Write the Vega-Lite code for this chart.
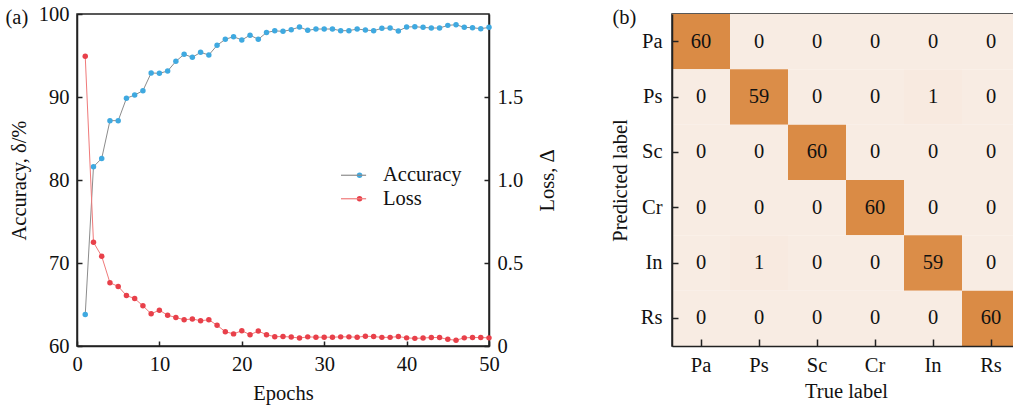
{
  "$schema": "https://vega.github.io/schema/vega-lite/v6.json",
  "padding": {"left": 4, "top": 3, "right": 0, "bottom": 0},
  "background": "white",
  "config": {
    "font": "Liberation Serif",
    "view": {"stroke": "#222", "strokeWidth": 1.5},
    "axis": {"grid": false, "domainColor": "#222", "tickColor": "#222", "labelColor": "#111", "titleColor": "#111", "labelFont": "Liberation Serif", "titleFont": "Liberation Serif", "labelFontSize": 20.5, "titleFontSize": 20.5, "titleFontWeight": "normal", "tickSize": -5, "labelPadding": 13, "labelFlush": false, "domainWidth": 1.5, "tickWidth": 1.5}
  },
  "datasets": {
    "train": [
      {"epoch": 1, "acc": 63.8, "loss": 1.745},
      {"epoch": 2, "acc": 81.6, "loss": 0.625},
      {"epoch": 3, "acc": 82.6, "loss": 0.540},
      {"epoch": 4, "acc": 87.15, "loss": 0.381},
      {"epoch": 5, "acc": 87.15, "loss": 0.359},
      {"epoch": 6, "acc": 89.84, "loss": 0.304},
      {"epoch": 7, "acc": 90.24, "loss": 0.286},
      {"epoch": 8, "acc": 90.76, "loss": 0.242},
      {"epoch": 9, "acc": 92.9, "loss": 0.194},
      {"epoch": 10, "acc": 92.85, "loss": 0.216},
      {"epoch": 11, "acc": 93.13, "loss": 0.185},
      {"epoch": 12, "acc": 94.3, "loss": 0.172},
      {"epoch": 13, "acc": 95.14, "loss": 0.158},
      {"epoch": 14, "acc": 94.78, "loss": 0.163},
      {"epoch": 15, "acc": 95.38, "loss": 0.152},
      {"epoch": 16, "acc": 95.06, "loss": 0.158},
      {"epoch": 17, "acc": 96.23, "loss": 0.125},
      {"epoch": 18, "acc": 96.95, "loss": 0.086},
      {"epoch": 19, "acc": 97.27, "loss": 0.073},
      {"epoch": 20, "acc": 96.87, "loss": 0.092},
      {"epoch": 21, "acc": 97.45, "loss": 0.068},
      {"epoch": 22, "acc": 96.95, "loss": 0.090},
      {"epoch": 23, "acc": 97.77, "loss": 0.068},
      {"epoch": 24, "acc": 97.97, "loss": 0.056},
      {"epoch": 25, "acc": 97.91, "loss": 0.057},
      {"epoch": 26, "acc": 98.11, "loss": 0.054},
      {"epoch": 27, "acc": 98.43, "loss": 0.048},
      {"epoch": 28, "acc": 98.03, "loss": 0.055},
      {"epoch": 29, "acc": 98.19, "loss": 0.053},
      {"epoch": 30, "acc": 98.19, "loss": 0.053},
      {"epoch": 31, "acc": 98.19, "loss": 0.053},
      {"epoch": 32, "acc": 97.99, "loss": 0.055},
      {"epoch": 33, "acc": 97.99, "loss": 0.055},
      {"epoch": 34, "acc": 98.19, "loss": 0.053},
      {"epoch": 35, "acc": 98.07, "loss": 0.059},
      {"epoch": 36, "acc": 97.99, "loss": 0.057},
      {"epoch": 37, "acc": 98.27, "loss": 0.052},
      {"epoch": 38, "acc": 98.31, "loss": 0.052},
      {"epoch": 39, "acc": 97.95, "loss": 0.057},
      {"epoch": 40, "acc": 98.43, "loss": 0.049},
      {"epoch": 41, "acc": 98.47, "loss": 0.046},
      {"epoch": 42, "acc": 98.39, "loss": 0.048},
      {"epoch": 43, "acc": 98.31, "loss": 0.051},
      {"epoch": 44, "acc": 98.31, "loss": 0.051},
      {"epoch": 45, "acc": 98.63, "loss": 0.040},
      {"epoch": 46, "acc": 98.71, "loss": 0.035},
      {"epoch": 47, "acc": 98.39, "loss": 0.049},
      {"epoch": 48, "acc": 98.35, "loss": 0.051},
      {"epoch": 49, "acc": 98.23, "loss": 0.051},
      {"epoch": 50, "acc": 98.39, "loss": 0.049}
    ],
    "cm": [
      {"pred": "Pa", "true": "Pa", "n": 60}, {"pred": "Pa", "true": "Ps", "n": 0}, {"pred": "Pa", "true": "Sc", "n": 0}, {"pred": "Pa", "true": "Cr", "n": 0}, {"pred": "Pa", "true": "In", "n": 0}, {"pred": "Pa", "true": "Rs", "n": 0},
      {"pred": "Ps", "true": "Pa", "n": 0}, {"pred": "Ps", "true": "Ps", "n": 59}, {"pred": "Ps", "true": "Sc", "n": 0}, {"pred": "Ps", "true": "Cr", "n": 0}, {"pred": "Ps", "true": "In", "n": 1}, {"pred": "Ps", "true": "Rs", "n": 0},
      {"pred": "Sc", "true": "Pa", "n": 0}, {"pred": "Sc", "true": "Ps", "n": 0}, {"pred": "Sc", "true": "Sc", "n": 60}, {"pred": "Sc", "true": "Cr", "n": 0}, {"pred": "Sc", "true": "In", "n": 0}, {"pred": "Sc", "true": "Rs", "n": 0},
      {"pred": "Cr", "true": "Pa", "n": 0}, {"pred": "Cr", "true": "Ps", "n": 0}, {"pred": "Cr", "true": "Sc", "n": 0}, {"pred": "Cr", "true": "Cr", "n": 60}, {"pred": "Cr", "true": "In", "n": 0}, {"pred": "Cr", "true": "Rs", "n": 0},
      {"pred": "In", "true": "Pa", "n": 0}, {"pred": "In", "true": "Ps", "n": 1}, {"pred": "In", "true": "Sc", "n": 0}, {"pred": "In", "true": "Cr", "n": 0}, {"pred": "In", "true": "In", "n": 59}, {"pred": "In", "true": "Rs", "n": 0},
      {"pred": "Rs", "true": "Pa", "n": 0}, {"pred": "Rs", "true": "Ps", "n": 0}, {"pred": "Rs", "true": "Sc", "n": 0}, {"pred": "Rs", "true": "Cr", "n": 0}, {"pred": "Rs", "true": "In", "n": 0}, {"pred": "Rs", "true": "Rs", "n": 60}
    ]
  },
  "spacing": 50,
  "resolve": {"scale": {"color": "independent"}, "legend": {"color": "independent"}},
  "hconcat": [
    {
      "width": 412,
      "height": 332,
      "data": {"name": "train"},
      "layer": [
        {
          "layer": [
            {"mark": {"type": "line", "strokeWidth": 1},
             "encoding": {
               "x": {"field": "epoch", "type": "quantitative", "scale": {"domain": [0, 50]}, "axis": {"values": [0, 10, 20, 30, 40, 50], "title": "Epochs", "titlePadding": 9}},
               "y": {"field": "acc", "type": "quantitative", "scale": {"domain": [60, 100]}, "axis": {"values": [60, 70, 80, 90, 100], "title": "Accuracy, δ/%", "titlePadding": 9}},
               "stroke": {"datum": "A", "type": "nominal",
                 "scale": {"domain": ["A", "L"], "range": ["#8c8c8c", "#f07a7a"]},
                 "legend": {"title": null, "orient": "none", "legendX": 266.3, "legendY": 151, "padding": 0, "symbolOffset": 0,
                   "symbolType": "M-1.45,0H1.45", "symbolSize": 300, "symbolStrokeWidth": 1.2,
                   "labelFontSize": 20.5, "labelFont": "Liberation Serif", "labelExpr": "''", "labelOffset": 0, "rowPadding": 2.5}}
             }},
            {"mark": {"type": "point", "filled": true, "size": 30, "opacity": 1},
             "encoding": {
               "x": {"field": "epoch", "type": "quantitative"},
               "y": {"field": "acc", "type": "quantitative"},
               "color": {"datum": "Accuracy", "type": "nominal",
                 "scale": {"domain": ["Accuracy", "Loss"], "range": ["#3fa9e0", "#e8404a"]},
                 "legend": {"title": null, "orient": "none", "legendX": 272.3, "legendY": 151, "padding": 0, "symbolOffset": 0,
                   "symbolType": "circle", "symbolSize": 30, "symbolStrokeWidth": 0,
                   "labelFontSize": 20.5, "labelFont": "Liberation Serif", "labelColor": "#111", "labelOffset": 13.2, "rowPadding": 2.5}}
             }}
          ]
        },
        {
          "layer": [
            {"mark": {"type": "line", "strokeWidth": 1},
             "encoding": {
               "x": {"field": "epoch", "type": "quantitative", "axis": {"orient": "top", "title": "(a)", "domain": false, "ticks": false, "labels": false, "titleX": -72, "titleY": 3, "titleAlign": "left", "titleBaseline": "middle", "titleAngle": 0}},
               "y": {"field": "loss", "type": "quantitative", "scale": {"domain": [0, 1.815]}, "axis": {"orient": "right", "values": [0, 0.5, 1, 1.5], "labelExpr": "datum.value == 0 ? '0' : format(datum.value, '.1f')", "title": "Loss, Δ", "titleAngle": 270, "titlePadding": 35}},
               "stroke": {"datum": "L", "type": "nominal"}
             }},
            {"mark": {"type": "point", "filled": true, "size": 30, "opacity": 1},
             "encoding": {
               "x": {"field": "epoch", "type": "quantitative"},
               "y": {"field": "loss", "type": "quantitative"},
               "color": {"datum": "Loss", "type": "nominal"}
             }}
          ]
        }
      ],
      "resolve": {"scale": {"y": "independent"}, "axis": {"x": "independent"}}
    },
    {
      "width": 348,
      "height": 332,
      "data": {"name": "cm"},
      "layer": [
        {"mark": {"type": "rect"},
         "encoding": {
           "x": {"field": "true", "type": "nominal", "sort": ["Pa", "Ps", "Sc", "Cr", "In", "Rs"], "axis": {"title": "True label", "labelAngle": 0, "tickSize": -7, "labelPadding": 16, "titlePadding": 6}},
           "y": {"field": "pred", "type": "nominal", "sort": ["Pa", "Ps", "Sc", "Cr", "In", "Rs"], "axis": {"title": "Predicted label", "tickSize": -6, "labelPadding": 16, "titlePadding": 10}},
           "color": {"field": "n", "type": "quantitative", "scale": {"domain": [0, 60], "range": ["#f8ece3", "#da8b45"]}, "legend": null}}},
        {"mark": {"type": "text", "fontSize": 20.5, "color": "#111", "font": "Liberation Serif"},
         "encoding": {
           "x": {"field": "true", "type": "nominal", "sort": ["Pa", "Ps", "Sc", "Cr", "In", "Rs"], "axis": {"orient": "top", "title": "(b)", "domain": false, "ticks": false, "labels": false, "titleX": -60, "titleY": 3, "titleAlign": "left", "titleBaseline": "middle", "titleAngle": 0}},
           "y": {"field": "pred", "type": "nominal", "sort": ["Pa", "Ps", "Sc", "Cr", "In", "Rs"]},
           "text": {"field": "n", "type": "quantitative"}}}
      ],
      "resolve": {"axis": {"x": "independent"}}
    }
  ]
}
